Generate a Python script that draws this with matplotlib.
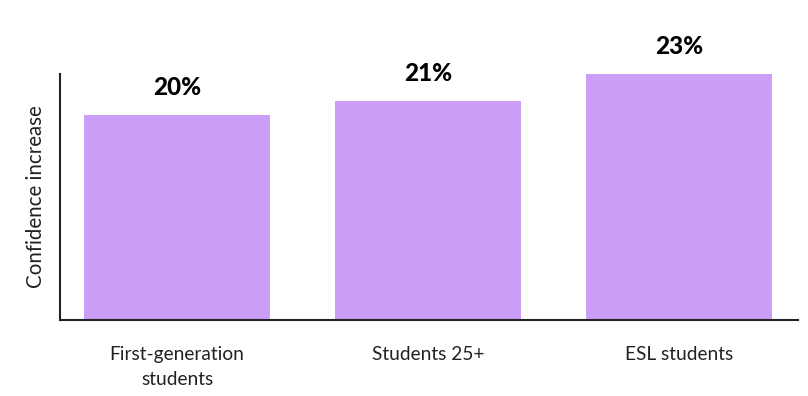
import matplotlib
matplotlib.use("Agg")
import matplotlib.pyplot as plt

# Data
groups = ["First-generation\nstudents", "Students 25+", "ESL students"]
increase = [20, 21, 23]
labels = ["20%", "21%", "23%"]

bar_color = "#cb9ff8"

fig = plt.figure(figsize=(8.08, 3.96), dpi=100)
ax = fig.add_axes([0.0743, 0.192, 0.9133, 0.621])

x = range(len(groups))
bars = ax.bar(x, increase, width=0.74, color=bar_color, bottom=0)

for b, lab in zip(bars, labels):
    ax.annotate(lab, (b.get_x() + b.get_width() / 2, b.get_height()),
                xytext=(0, 20), textcoords="offset points",
                ha="center", va="center", fontsize=17.5, fontweight="black",
                family="Lato", color="black")

ax.set_ylim(5, 23)
ax.set_xlim(-0.466, 2.474)
ax.set_xticks(list(x))
ax.set_xticklabels(groups, fontsize=13.8, family="Lato", color="#222222",
                   linespacing=1.55)
ax.tick_params(axis="x", length=0, pad=19)
ax.set_yticks([])
ax.set_ylabel("Confidence increase", fontsize=14.8, family="Lato", color="#222222", labelpad=10)

for s in ["top", "right"]:
    ax.spines[s].set_visible(False)
for s in ["left", "bottom"]:
    ax.spines[s].set_linewidth(1.5)
    ax.spines[s].set_color("#222222")

fig.savefig("out.png", dpi=100)
